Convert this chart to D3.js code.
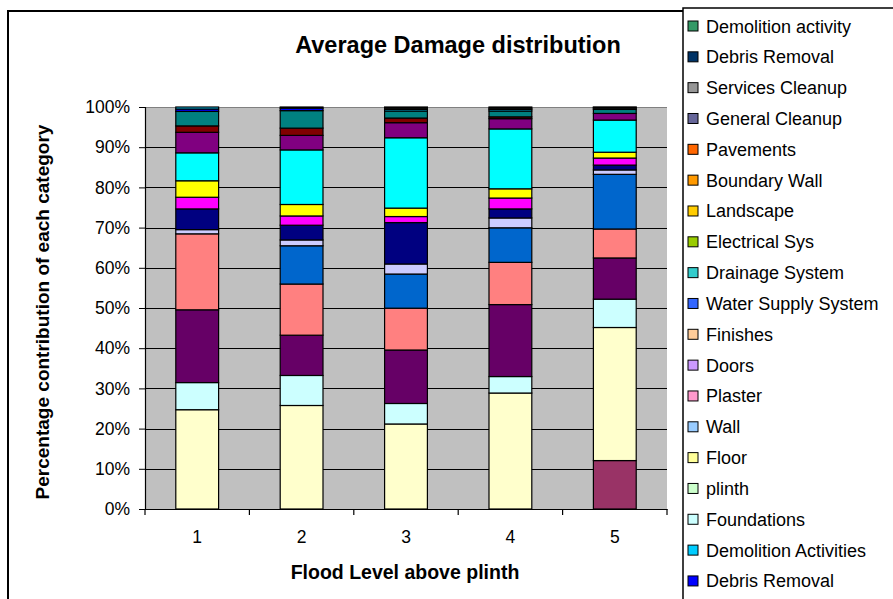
<!DOCTYPE html>
<html><head><meta charset="utf-8">
<script src="https://cdn.jsdelivr.net/npm/d3@7"></script>
<style>body{margin:0;background:#fff;} svg{display:block;font-family:"Liberation Sans",Arial,sans-serif;}</style>
</head><body><svg id="c" width="893" height="599"></svg>
<script>
// Categories (flood level above plinth)
const categories = ["1","2","3","4","5"];
// Series names in stacking order (bottom -> top)
const seriesNames = ["Debris Removal","Demolition Activities","Foundations","plinth","Floor","Wall","Plaster","Doors","Finishes","Water Supply System","Drainage System","Electrical Sys","Landscape","Boundary Wall","Pavements","General Cleanup","Services Cleanup","Debris Removal","Demolition activity"];
// Series values (percent) per flood level
const debrisRemovalA      = [0, 0, 0, 0, 0];
const demolitionActivities= [0, 0, 0, 0, 12.05];
const foundations         = [24.7, 25.7, 21.15, 28.85, 33.1];
const plinth              = [6.75, 7.45, 5.1, 4.1, 7.05];
const floorV              = [18.1, 10, 13.3, 17.9, 10.25];
const wall                = [18.9, 12.7, 10.4, 10.5, 7.2];
const plaster             = [0, 9.5, 8.5, 8.6, 13.6];
const doors               = [1.05, 1.45, 2.5, 2.45, 1.1];
const finishes            = [5.15, 3.65, 10.3, 2.25, 1.2];
const waterSupply         = [2.9, 2.3, 1.5, 2.7, 1.75];
const drainage            = [4.1, 2.85, 2.1, 2.3, 1.45];
const electrical          = [6.95, 13.55, 17.5, 14.9, 8.0];
const landscape           = [5.1, 3.6, 3.75, 2.55, 1.65];
const boundaryWall        = [1.6, 1.8, 1.15, 0.45, 0];
const pavements           = [3.6, 4.35, 1.75, 1.45, 1.0];
const generalCleanup      = [0.6, 0.6, 0, 0, 0];
const servicesCleanup     = [0.5, 0.3, 0.4, 0.4, 0.3];
const debrisRemovalB      = [0, 0, 0.3, 0.3, 0.2];
const demolitionActivity  = [0, 0, 0.3, 0.3, 0.1];
const seriesValues = [debrisRemovalA, demolitionActivities, foundations, plinth, floorV, wall, plaster, doors, finishes, waterSupply, drainage, electrical, landscape, boundaryWall, pavements, generalCleanup, servicesCleanup, debrisRemovalB, demolitionActivity];
// Y tick values
const yTicks = [0, 0.1, 0.2, 0.3, 0.4, 0.5, 0.6, 0.7, 0.8, 0.9, 1.0];

// Styles
const barColors = ["#9999FF","#993366","#FFFFCC","#CCFFFF","#660066","#FF8080","#0066CC","#CCCCFF","#000080","#FF00FF","#FFFF00","#00FFFF","#800080","#800000","#008080","#0000FF","#00CCFF","#CCFFFF","#CCFFCC"];
const legendColors = ["#0000FF","#00CCFF","#CCFFFF","#CCFFCC","#FFFF99","#99CCFF","#FF99CC","#CC99FF","#FFCC99","#3366FF","#33CCCC","#99CC00","#FFCC00","#FF9900","#FF6600","#666699","#969696","#003366","#339966"];
const FONT = "'Liberation Sans', Arial, sans-serif";

const svg = d3.select("#c");
// outer chart border
svg.append("rect").attr("x",8).attr("y",11).attr("width",1200).attr("height",1200)
  .attr("fill","#fff").attr("stroke","#000").attr("stroke-width",2);

const plot = {left:145, right:667, top:107, bottom:509};
const x = d3.scaleBand().domain(categories).range([plot.left, plot.right]).paddingInner(0).paddingOuter(0);
const y = d3.scaleLinear().domain([0,1]).range([plot.bottom, plot.top]);

// plot area background
svg.append("rect").attr("x",plot.left).attr("y",plot.top)
  .attr("width",plot.right-plot.left).attr("height",plot.bottom-plot.top).attr("fill","#C0C0C0");

// gridlines
svg.append("g").selectAll("line").data(yTicks.filter(t=>t>0)).join("line")
  .attr("x1",plot.left).attr("x2",plot.right)
  .attr("y1",d=>Math.round(y(d))+0.5).attr("y2",d=>Math.round(y(d))+0.5)
  .attr("stroke",d=>d===1?"#808080":"#000").attr("stroke-width",1);

// data table
const table = categories.map((c,i)=>{
  const o = {cat:c};
  seriesValues.forEach((s,k)=>{ o["s"+k] = s[i]; });
  return o;
});
const keys = seriesValues.map((s,k)=>"s"+k);
const stacked = d3.stack().keys(keys).offset(d3.stackOffsetExpand)(table);

const barW = x.bandwidth()*0.41;
const gBars = svg.append("g");
stacked.forEach((layer,k)=>{
  gBars.append("g").attr("fill",barColors[k]).selectAll("rect")
    .data(layer.filter(d=>d[1]-d[0]>0)).join("rect")
    .attr("x",d=>x(d.data.cat)+x.bandwidth()/2-barW/2)
    .attr("width",barW)
    .attr("y",d=>y(d[1]))
    .attr("height",d=>y(d[0])-y(d[1]))
    .attr("stroke","#000").attr("stroke-width",1.2);
});

// y axis
const yAxis = svg.append("g").attr("transform",`translate(${plot.left},0)`)
  .call(d3.axisLeft(y).tickValues(yTicks).tickFormat(d3.format(".0%")).tickSize(6).tickPadding(9));
yAxis.select(".domain").attr("stroke","#000").attr("stroke-width",1.2);
yAxis.selectAll(".tick line").attr("stroke","#000");
yAxis.selectAll("text").attr("font-size",17.5).attr("fill","#000").attr("font-family",FONT);

// x axis
const xAxis = svg.append("g").attr("transform",`translate(0,${plot.bottom})`)
  .call(d3.axisBottom(x).tickSize(0).tickPadding(22));
xAxis.select(".domain").attr("stroke","#000").attr("stroke-width",1.2);
xAxis.selectAll("text").attr("font-size",17.5).attr("fill","#000").attr("font-family",FONT);
// tick marks at category boundaries
const bounds = categories.map(c=>x(c)).concat([plot.right]);
svg.append("g").selectAll("line").data(bounds).join("line")
  .attr("x1",d=>d).attr("x2",d=>d).attr("y1",plot.bottom).attr("y2",plot.bottom+6)
  .attr("stroke","#000").attr("stroke-width",1.2);

// titles
svg.append("text").attr("x",458).attr("y",53).attr("text-anchor","middle").attr("font-family",FONT)
  .attr("font-size",23.5).attr("font-weight","bold").text("Average Damage distribution");
svg.append("text").attr("x",405).attr("y",579).attr("text-anchor","middle").attr("font-family",FONT)
  .attr("font-size",19.5).attr("font-weight","bold").text("Flood Level above plinth");
svg.append("text").attr("transform","translate(49,312) rotate(-90)").attr("text-anchor","middle").attr("font-family",FONT)
  .attr("font-size",19).attr("font-weight","bold").text("Percentage contribution of each category");

// legend
svg.append("rect").attr("x",683).attr("y",8).attr("width",400).attr("height",800)
  .attr("fill","#fff").attr("stroke","#000").attr("stroke-width",1.5);
const legendItems = seriesNames.map((n,k)=>({name:n, color:legendColors[k]})).reverse();
const lg = svg.append("g");
const rows = lg.selectAll("g").data(legendItems).join("g")
  .attr("transform",(d,i)=>`translate(688,${26 + i*30.83})`);
rows.append("rect").attr("x",0).attr("y",-5).attr("width",10).attr("height",10)
  .attr("fill",d=>d.color).attr("stroke","#000").attr("stroke-width",1);
rows.append("text").attr("x",18).attr("y",6.5).attr("font-size",18).attr("font-family",FONT).attr("fill","#000").text(d=>d.name);
</script>
</body></html>
